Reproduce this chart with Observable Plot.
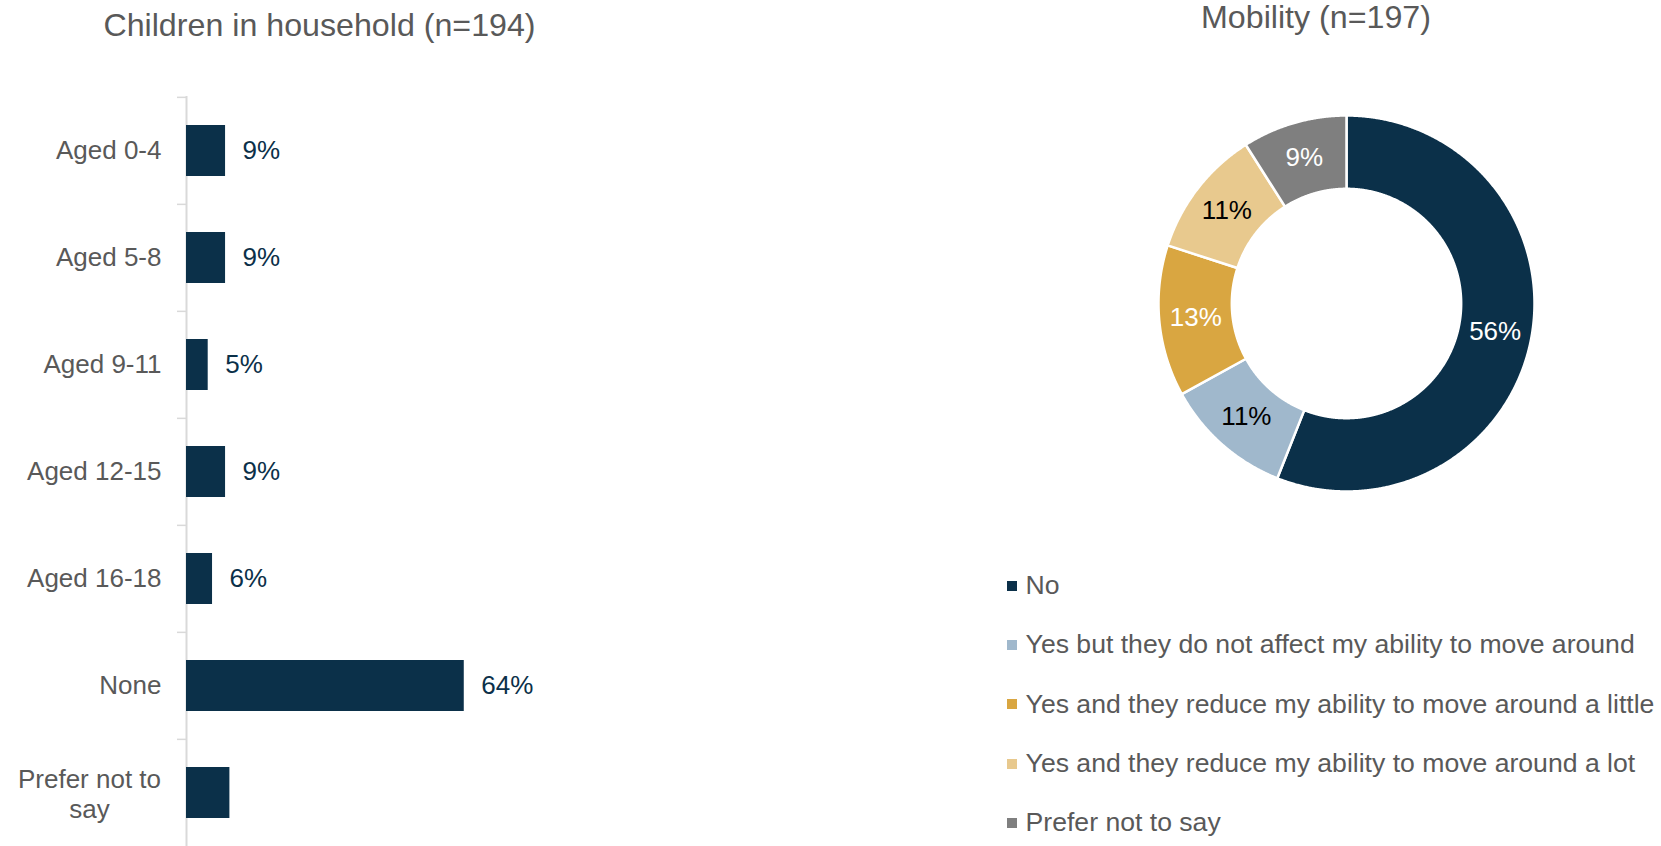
<!DOCTYPE html>
<html>
<head>
<meta charset="utf-8">
<script src="https://cdn.jsdelivr.net/npm/d3@7"></script>
<script src="https://cdn.jsdelivr.net/npm/@observablehq/plot@0.6"></script>
<style>
html, body { margin: 0; padding: 0; background: #fff; overflow: hidden; width: 1661px; height: 846px; }
body { position: relative; font-family: "Liberation Sans", Arial, Helvetica, sans-serif; }
.title { position: absolute; font-size: 32.2px; line-height: 32px; color: #595959; white-space: nowrap; transform: translateX(-50%); }
#bars, #donut, #legend { position: absolute; }
#bars { left: 0; top: 0; }
#donut { left: 1135.8px; top: 92.5px; }
#legend { left: 1007px; top: 556px; }
#legend > div { display: flex !important; flex-direction: column !important; align-items: flex-start !important; flex-wrap: nowrap !important;
  font-family: "Liberation Sans", Arial, Helvetica, sans-serif !important; font-size: 26.6px !important; color: #595959 !important; margin: 0 !important; min-height: 0 !important; }
#legend > div > span { display: flex !important; align-items: center !important; height: 59.3px !important; margin: 0 !important; white-space: nowrap; }
#legend svg { margin-right: 8.6px !important; flex-shrink: 0; }
</style>
</head>
<body>
<div class="title" style="left:319.5px; top:9px;">Children in household (n=194)</div>
<div class="title" style="left:1316px; top:0.5px;">Mobility (n=197)</div>
<div id="bars"></div>
<div id="donut"></div>
<div id="legend"></div>
<script>
// ---- Data: Children in household ----
const childCategories = ["Aged 0-4", "Aged 5-8", "Aged 9-11", "Aged 12-15", "Aged 16-18", "None", "Prefer not to say"];
const childValues = [9, 9, 5, 9, 6, 64, 10];
const childLabels = ["9%", "9%", "5%", "9%", "6%", "64%", ""];

// ---- Data: Mobility ----
const mobilityCategories = [
  "No",
  "Yes but they do not affect my ability to move around",
  "Yes and they reduce my ability to move around a little",
  "Yes and they reduce my ability to move around a lot",
  "Prefer not to say"
];
const mobilityValues = [56, 11, 13, 11, 9];
const mobilityColors = ["#0b3049", "#a0b8cc", "#d9a641", "#e8c98e", "#7f7f7f"];
const mobilityLabelDark = [false, true, false, true, false];

const FONT = '"Liberation Sans", Arial, Helvetica, sans-serif';
const NAVY = "#0b3049";
const GREY_TEXT = "#595959";

// ---- Bar chart ----
const childData = childCategories.map((c, i) => ({
  category: c,
  value: childValues[i],
  label: childLabels[i],
  display: c === "Prefer not to say" ? "Prefer not to\nsay" : c
}));
const barTop = 96, barHeight = 847;
const step = (barHeight - barTop) / childCategories.length;

const bars = Plot.plot({
  width: 900,
  height: barHeight,
  marginTop: barTop,
  marginBottom: 0,
  marginLeft: 186,
  marginRight: 900 - 186 - 434,
  style: { fontFamily: FONT, fontSize: "26px", background: "transparent", overflow: "visible" },
  x: { domain: [0, 100], axis: null },
  y: { domain: childCategories, paddingInner: 0.527, paddingOuter: 0.2635, axis: null },
  marks: [
    Plot.axisY({ anchor: "left", label: null, tickSize: 9, tickFormat: () => "", stroke: "#d9d9d9", strokeWidth: 1.5, dy: -step / 2 }),
    Plot.ruleX([0], { stroke: "#d9d9d9", strokeWidth: 2 }),
    Plot.barX(childData, { x: "value", y: "category", fill: NAVY }),
    Plot.text(childData.filter(d => d.label), { x: "value", y: "category", text: "label", dx: 17, textAnchor: "start", fill: NAVY, fontSize: 26 }),
    Plot.text(childData.filter(d => !d.display.includes("\n")), { frameAnchor: "left", y: "category", text: "display", dx: -25, textAnchor: "end", fill: GREY_TEXT, fontSize: 26 }),
    Plot.text(childData.filter(d => d.display.includes("\n")), { frameAnchor: "left", y: "category", text: "display", dx: -97, textAnchor: "middle", lineHeight: 1.154, fill: GREY_TEXT, fontSize: 26 })
  ]
});
document.getElementById("bars").appendChild(bars);

// ---- Donut ----
const pie = d3.pie().sort(null).value(d => d)(mobilityValues);
const R_OUT = 1, R_IN = 0.61;
const sliceRing = [];
pie.forEach((p, i) => {
  const n = Math.max(4, Math.ceil((p.endAngle - p.startAngle) / 0.005));
  for (let k = 0; k <= n; k++) {
    const a = p.startAngle + (p.endAngle - p.startAngle) * k / n;
    sliceRing.push({ cat: mobilityCategories[i], x: R_OUT * Math.sin(a), y: R_OUT * Math.cos(a) });
  }
  for (let k = n; k >= 0; k--) {
    const a = p.startAngle + (p.endAngle - p.startAngle) * k / n;
    sliceRing.push({ cat: mobilityCategories[i], x: R_IN * Math.sin(a), y: R_IN * Math.cos(a) });
  }
});
const sliceLabels = pie.map((p, i) => {
  const a = (p.startAngle + p.endAngle) / 2, r = (R_IN + R_OUT) / 2;
  return { x: r * Math.sin(a), y: r * Math.cos(a), text: mobilityValues[i] + "%", dark: mobilityLabelDark[i] };
});
const S = 420, unitPx = 188, half = (S / 2) / unitPx;
const donut = Plot.plot({
  width: S, height: S, margin: 0,
  style: { fontFamily: FONT, fontSize: "26px", background: "transparent", overflow: "visible" },
  x: { domain: [-half, half], axis: null },
  y: { domain: [-half, half], axis: null },
  color: { domain: mobilityCategories, range: mobilityColors },
  marks: [
    Plot.line(sliceRing, { x: "x", y: "y", z: "cat", fill: "cat", stroke: "white", strokeWidth: 2.5, curve: "linear-closed" }),
    Plot.text(sliceLabels.filter(d => !d.dark), { x: "x", y: "y", text: "text", fill: "white", fontSize: 26 }),
    Plot.text(sliceLabels.filter(d => d.dark), { x: "x", y: "y", text: "text", fill: "black", fontSize: 26 })
  ]
});
document.getElementById("donut").appendChild(donut);

// ---- Legend ----
const legend = Plot.legend({
  color: { domain: mobilityCategories, range: mobilityColors },
  legend: "swatches",
  swatchSize: 10,
  className: "mob"
});
document.getElementById("legend").appendChild(legend);
</script>
</body>
</html>
